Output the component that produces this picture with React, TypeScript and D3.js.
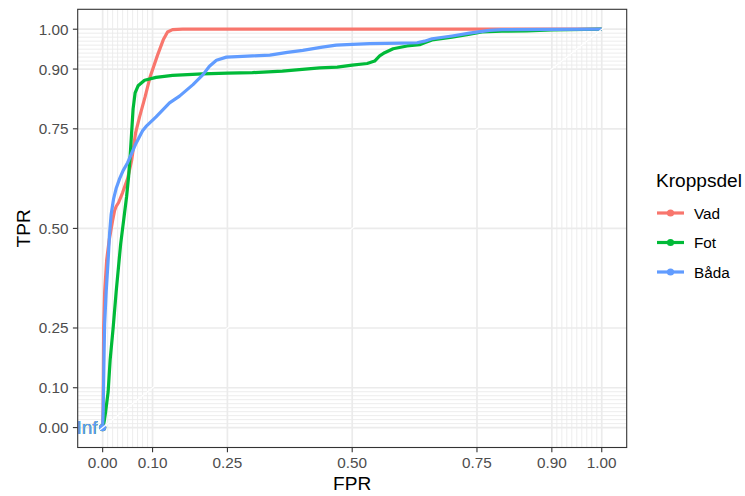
import React from "react";
import * as d3 from "d3";

const groups = ["Vad", "Fot", "Båda"];
const colors = ["#F8766D", "#00BA38", "#619CFF"];

const vadFPR = [0, 0.001, 0.002, 0.004, 0.008, 0.013, 0.02, 0.024, 0.027, 0.032, 0.04, 0.05, 0.058, 0.066, 0.074, 0.085, 0.095, 0.11, 0.122, 0.13, 0.14, 0.16, 1];
const vadTPR = [0, 0.05, 0.25, 0.34, 0.42, 0.47, 0.52, 0.545, 0.555, 0.565, 0.59, 0.625, 0.67, 0.74, 0.78, 0.83, 0.88, 0.935, 0.975, 0.993, 0.999, 1, 1];

const fotFPR = [0, 0.003, 0.006, 0.011, 0.015, 0.021, 0.027, 0.033, 0.036, 0.04, 0.044, 0.048, 0.052, 0.055, 0.058, 0.061, 0.065, 0.071, 0.084, 0.107, 0.14, 0.2, 0.25, 0.3, 0.36, 0.4, 0.435, 0.47, 0.5, 0.53, 0.545, 0.555, 0.565, 0.582, 0.61, 0.635, 0.645, 0.66, 0.7, 0.73, 0.76, 0.8, 0.85, 0.9, 1];
const fotTPR = [0, 0.015, 0.04, 0.09, 0.17, 0.25, 0.34, 0.42, 0.46, 0.5, 0.54, 0.58, 0.63, 0.68, 0.74, 0.8, 0.84, 0.858, 0.872, 0.879, 0.884, 0.888, 0.89, 0.891, 0.895, 0.899, 0.903, 0.905, 0.91, 0.914, 0.92, 0.933, 0.941, 0.951, 0.958, 0.961, 0.966, 0.973, 0.98, 0.986, 0.993, 0.995, 0.996, 0.998, 1];

const badaFPR = [0, 0.001, 0.003, 0.004, 0.007, 0.011, 0.014, 0.017, 0.022, 0.027, 0.034, 0.041, 0.05, 0.057, 0.067, 0.08, 0.087, 0.107, 0.134, 0.154, 0.181, 0.201, 0.214, 0.228, 0.248, 0.27, 0.3, 0.335, 0.37, 0.401, 0.44, 0.468, 0.5, 0.535, 0.6, 0.63, 0.645, 0.66, 0.7, 0.735, 0.775, 0.8, 1];
const badaTPR = [0, 0.04, 0.2, 0.26, 0.34, 0.42, 0.49, 0.535, 0.575, 0.6, 0.625, 0.645, 0.665, 0.685, 0.714, 0.745, 0.756, 0.78, 0.815, 0.832, 0.861, 0.886, 0.907, 0.922, 0.93, 0.931, 0.933, 0.935, 0.942, 0.947, 0.955, 0.96, 0.962, 0.964, 0.965, 0.966, 0.97, 0.976, 0.983, 0.99, 0.997, 0.999, 1];

const majorBreaks = [0, 0.1, 0.25, 0.5, 0.75, 0.9, 1];
const majorLabels = ["0.00", "0.10", "0.25", "0.50", "0.75", "0.90", "1.00"];
const minorBreaks = [0.01, 0.02, 0.03, 0.04, 0.05, 0.06, 0.07, 0.08, 0.09, 0.91, 0.92, 0.93, 0.94, 0.95, 0.96, 0.97, 0.98, 0.99];
const cutoffLabel = "Inf";

const fprs = [vadFPR, fotFPR, badaFPR];
const tprs = [vadTPR, fotTPR, badaTPR];

export default function App() {
  const W = 745, H = 496;
  const pl = 77.7, pr = 626.7, pt = 9.3, pb = 447.5;
  const x = d3.scaleLinear().domain([-0.05, 1.05]).range([pl, pr]);
  const y = d3.scaleLinear().domain([-0.05, 1.05]).range([pb, pt]);
  const line = d3.line<[number, number]>().x(d => x(d[0])).y(d => y(d[1]));
  const font = "'Liberation Sans', Arial, Helvetica, sans-serif";
  const grid = "#EBEBEB";

  const series = groups.map((g, i) => ({
    name: g,
    color: colors[i],
    pts: fprs[i].map((f, j) => [f, tprs[i][j]] as [number, number]),
  }));

  const legendY = [213, 242.5, 272];

  return (
    <svg width={W} height={H} style={{ position: "absolute", left: 0, top: 0, background: "#fff" }} fontFamily={font}>
      <rect x={0} y={0} width={W} height={H} fill="#fff" />
      <defs>
        <clipPath id="panel"><rect x={pl} y={pt} width={pr - pl} height={pb - pt} /></clipPath>
      </defs>
      <g clipPath="url(#panel)">
        {minorBreaks.map(b => (
          <g key={"mn" + b}>
            <line x1={x(b)} x2={x(b)} y1={pt} y2={pb} stroke={grid} strokeWidth={0.9} />
            <line x1={pl} x2={pr} y1={y(b)} y2={y(b)} stroke={grid} strokeWidth={0.9} />
          </g>
        ))}
        {majorBreaks.map(b => (
          <g key={"mj" + b}>
            <line x1={x(b)} x2={x(b)} y1={pt} y2={pb} stroke={grid} strokeWidth={1.7} />
            <line x1={pl} x2={pr} y1={y(b)} y2={y(b)} stroke={grid} strokeWidth={1.7} />
          </g>
        ))}
        {series.map(s => (
          <path key={s.name} d={line(s.pts) || ""} fill="none" stroke={s.color} strokeWidth={3.2} strokeLinejoin="round" strokeLinecap="butt" />
        ))}
        {series.map(s => (
          <circle key={"p" + s.name} cx={x(0)} cy={y(0)} r={3.6} fill={s.color} />
        ))}
        <line x1={x(-0.05)} y1={y(-0.05)} x2={x(1.05)} y2={y(1.05)} stroke="#fff" strokeWidth={1.1} />
        {series.map(s => (
          <text key={"l" + s.name} x={x(0) - 5} y={y(0)} dy="0.36em" textAnchor="end" fontSize={19} fill={s.color}>{cutoffLabel}</text>
        ))}
      </g>
      <rect x={pl} y={pt} width={pr - pl} height={pb - pt} fill="none" stroke="#333333" strokeWidth={1.1} />
      {majorBreaks.map((b, i) => (
        <g key={"xt" + b}>
          <line x1={x(b)} x2={x(b)} y1={pb} y2={pb + 4.8} stroke="#333333" strokeWidth={1.1} />
          <text x={x(b)} y={468} textAnchor="middle" fontSize={15.3} fill="#4D4D4D">{majorLabels[i]}</text>
        </g>
      ))}
      {majorBreaks.map((b, i) => (
        <g key={"yt" + b}>
          <line x1={pl - 4.8} x2={pl} y1={y(b)} y2={y(b)} stroke="#333333" strokeWidth={1.1} />
          <text x={68.5} y={y(b)} dy="0.36em" textAnchor="end" fontSize={15.3} fill="#4D4D4D">{majorLabels[i]}</text>
        </g>
      ))}
      <text x={(pl + pr) / 2} y={490} textAnchor="middle" fontSize={19.1} fill="#000">FPR</text>
      <text transform={`translate(29.5,${(pt + pb) / 2}) rotate(-90)`} textAnchor="middle" fontSize={19.1} fill="#000">TPR</text>
      <text x={656} y={187} fontSize={19.1} fill="#000">Kroppsdel</text>
      {series.map((s, i) => (
        <g key={"lg" + s.name}>
          <line x1={657} x2={684} y1={legendY[i]} y2={legendY[i]} stroke={s.color} strokeWidth={3.2} />
          <circle cx={670.5} cy={legendY[i]} r={3.6} fill={s.color} />
          <text x={694} y={legendY[i]} dy="0.36em" fontSize={15.3} fill="#000">{s.name}</text>
        </g>
      ))}
    </svg>
  );
}
